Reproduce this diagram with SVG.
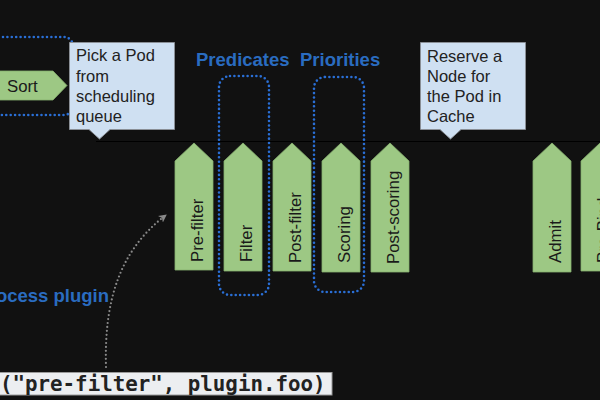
<svg xmlns="http://www.w3.org/2000/svg" width="600" height="400" viewBox="0 0 600 400">
<style>
.bg{fill:#111111}
.step{fill:#9dc884;stroke:#86b06e;stroke-width:0.8}
.steptxt{font-family:"Liberation Sans",Arial,sans-serif;font-size:16.8px;fill:#1a1a1a}
.callout{fill:#cfe0f2;stroke:#8a8f96;stroke-width:1}
.calltxt{font-family:"Liberation Sans",Arial,sans-serif;font-size:16.5px;fill:#222}
.blue{font-family:"Liberation Sans",Arial,sans-serif;font-weight:bold;font-size:18.5px;fill:#2a6cc0}
.dots{fill:none;stroke:#2a6fd6;stroke-width:2.6;stroke-dasharray:0 4.4;stroke-linecap:round}
.code{font-family:"DejaVu Sans Mono","Liberation Mono",monospace;font-weight:bold;font-size:20.8px;fill:#222}
</style>
<defs>
<marker id="ah" markerWidth="10" markerHeight="10" refX="7" refY="5" orient="auto" markerUnits="userSpaceOnUse">
<path d="M0,1 L8,5 L0,9 L2,5 Z" fill="#8a8a8a"/>
</marker>
</defs>
<rect class="bg" x="0" y="0" width="600" height="400"/>
<line x1="96" y1="141.5" x2="600" y2="141.5" stroke="#000" stroke-width="1"/>

<g id="sort">
<path class="step" d="M-10,71 L53,71 L67,85.5 L53,100 L-10,100 Z"/>
<text class="steptxt" x="7" y="92">Sort</text>
</g>
<g id="sort-group">
<rect class="dots" x="-50" y="37" width="123" height="78" rx="9"/>
</g>

<g id="callout-pick">
<path class="callout" d="M69.5,42.5 L174.5,42.5 L174.5,129.5 L110,129.5 L99.5,139 L89,129.5 L69.5,129.5 Z"/>
<text class="calltxt" x="76" y="61">Pick a Pod</text>
<text class="calltxt" x="76" y="81.5">from</text>
<text class="calltxt" x="76" y="102">scheduling</text>
<text class="calltxt" x="76" y="122">queue</text>
</g>
<g id="callout-reserve">
<path class="callout" d="M420.5,42.5 L525.5,42.5 L525.5,129.5 L461,129.5 L450.5,139 L440,129.5 L420.5,129.5 Z"/>
<text class="calltxt" x="427" y="62">Reserve a</text>
<text class="calltxt" x="427" y="82">Node for</text>
<text class="calltxt" x="427" y="102">the Pod in</text>
<text class="calltxt" x="427" y="122">Cache</text>
</g>

<text class="blue" x="196" y="66">Predicates</text>
<text class="blue" x="300" y="66">Priorities</text>
<text class="blue" x="109" y="302" text-anchor="end">Process plugin</text>

<g id="pre-filter">
<path class="step" d="M175,161 L194,143 L213,161 L213,270 L175,270 Z"/>
<text class="steptxt" transform="translate(203,262) rotate(-90)">Pre-filter</text>
</g>
<g id="filter">
<path class="step" d="M224,161 L243,143 L262,161 L262,271 L224,271 Z"/>
<text class="steptxt" transform="translate(252,262) rotate(-90)">Filter</text>
</g>
<g id="post-filter">
<path class="step" d="M273,161 L292,143 L311,161 L311,271 L273,271 Z"/>
<text class="steptxt" transform="translate(301,263) rotate(-90)">Post-filter</text>
</g>
<g id="scoring">
<path class="step" d="M322,161 L341,143 L360,161 L360,272 L322,272 Z"/>
<text class="steptxt" transform="translate(350,263) rotate(-90)">Scoring</text>
</g>
<g id="post-scoring">
<path class="step" d="M371,161 L390,143 L409,161 L409,272 L371,272 Z"/>
<text class="steptxt" transform="translate(399,264) rotate(-90)">Post-scoring</text>
</g>
<g id="admit">
<path class="step" d="M533,161 L552,143 L571,161 L571,272 L533,272 Z"/>
<text class="steptxt" transform="translate(561,263) rotate(-90)">Admit</text>
</g>
<g id="pre-bind">
<path class="step" d="M581,161 L600,143 L619,161 L619,271 L581,271 Z"/>
<text class="steptxt" transform="translate(609,263) rotate(-90)">Pre-Bind</text>
</g>

<g id="predicates-group">
<rect class="dots" x="219" y="76" width="50" height="219" rx="11"/>
</g>
<g id="priorities-group">
<rect class="dots" x="314" y="77" width="50" height="215" rx="11"/>
</g>

<g id="code">
<rect x="-2" y="372.5" width="334" height="22.5" fill="#eceef1" stroke="#9a9a9a" stroke-width="1"/>
<text class="code" x="0" y="391">("pre-filter", plugin.foo)</text>
</g>

<g id="connectors">
<path d="M106,367 C104,300 120,250 166,215" fill="none" stroke="#8a8a8a" stroke-width="2.2" stroke-dasharray="0 4" stroke-linecap="round" marker-end="url(#ah)"/>
</g>
</svg>
